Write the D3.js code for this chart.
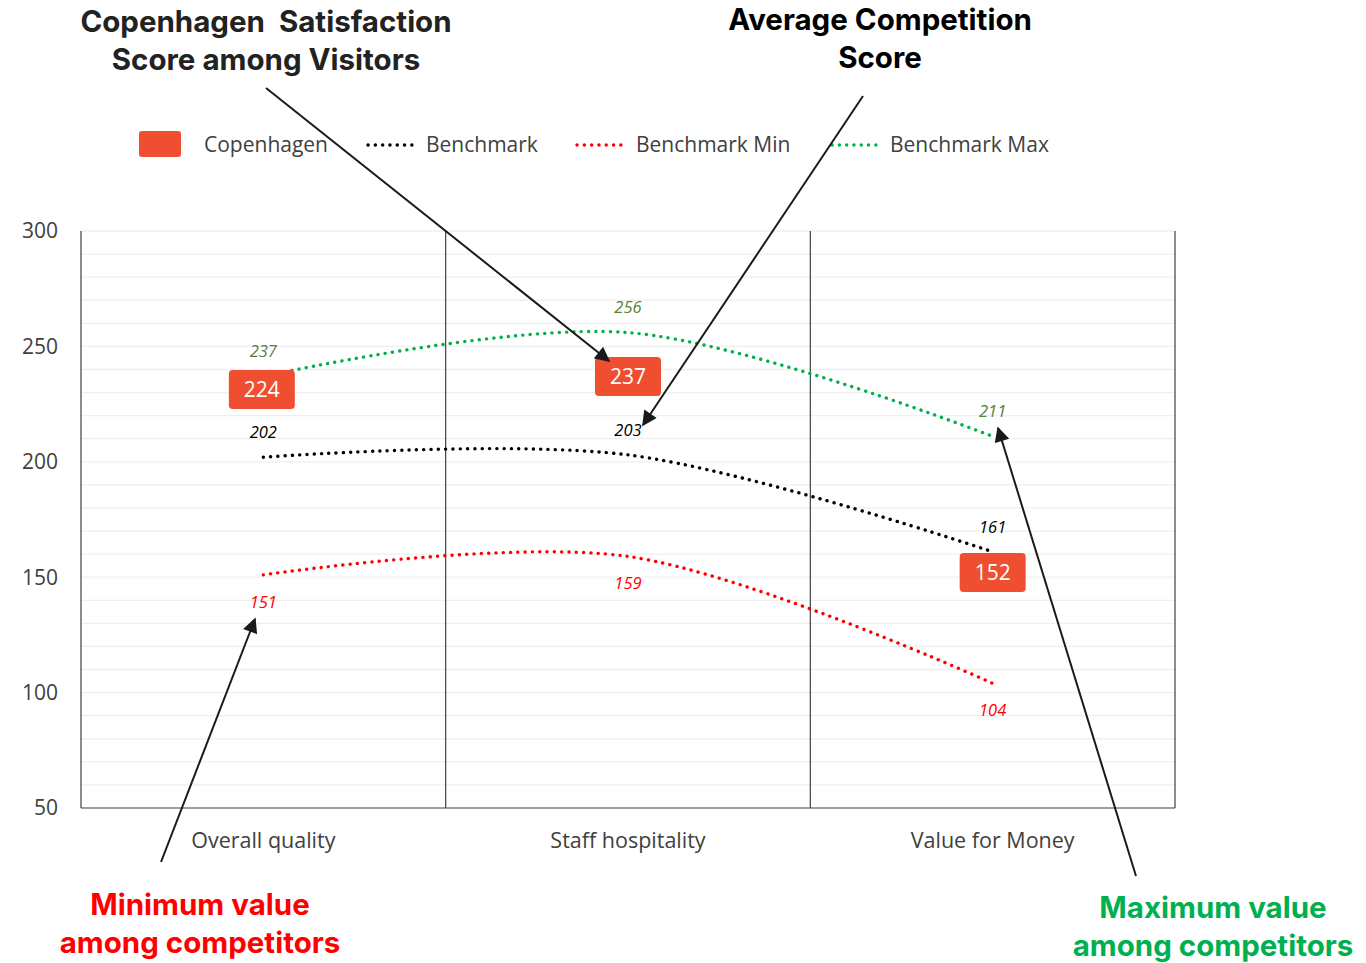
<!DOCTYPE html>
<html>
<head>
<meta charset="utf-8">
<script src="https://cdn.jsdelivr.net/npm/d3@7"></script>
<style>
  body { margin: 0; background: #fff; }
  text { font-family: "Open Sans", "Noto Sans", sans-serif; white-space: pre; }
</style>
</head>
<body>
<div id="chart"></div>
<script>
// data
const categories = ["Overall quality", "Staff hospitality", "Value for Money"];
const copenhagen = [224, 237, 152];
const benchmark = [202, 203, 161];
const benchmarkMin = [151, 159, 104];
const benchmarkMax = [237, 256, 211];
const yTicks = [50, 100, 150, 200, 250, 300];

const W = 1366, H = 963;
const plotL = 81, plotR = 1175, plotT = 231, plotB = 808;

const svg = d3.select("#chart").append("svg")
  .attr("width", W).attr("height", H);

const x = d3.scaleBand().domain(categories).range([plotL, plotR]).padding(0);
const y = d3.scaleLinear().domain([50, 300]).range([plotB, plotT]);
const cx = d => x(d) + x.bandwidth() / 2;

// minor gridlines every 10
const grid = svg.append("g");
grid.selectAll("line").data(d3.range(60, 301, 10)).enter().append("line")
  .attr("x1", plotL).attr("x2", plotR)
  .attr("y1", d => y(d)).attr("y2", d => y(d))
  .attr("stroke", "#efefef").attr("stroke-width", 1.3);

// category separators + frame
const frame = svg.append("g").attr("stroke", "#404040").attr("stroke-width", 1.2);
frame.selectAll("line.sep").data(categories).enter().append("line")
  .attr("class", "sep")
  .attr("x1", d => x(d)).attr("x2", d => x(d))
  .attr("y1", plotT).attr("y2", plotB);
frame.append("line").attr("x1", plotR).attr("x2", plotR).attr("y1", plotT).attr("y2", plotB);
frame.append("line").attr("x1", plotL).attr("x2", plotR).attr("y1", plotB).attr("y2", plotB);

// y axis labels
svg.append("g").selectAll("text").data(yTicks).enter().append("text")
  .attr("x", 58).attr("y", d => y(d)).attr("dy", "0.35em")
  .attr("text-anchor", "end").attr("font-size", 21).attr("fill", "#404040")
  .text(d => d);

// x axis labels
svg.append("g").selectAll("text").data(categories).enter().append("text")
  .attr("x", d => cx(d)).attr("y", 840).attr("dy", "0.35em")
  .attr("text-anchor", "middle").attr("font-size", 21.5).attr("fill", "#404040")
  .text(d => d);

// smoothed dotted series
const series = [
  { name: "Benchmark Max", values: benchmarkMax, color: "#00b050", label: "#548235", above: true },
  { name: "Benchmark", values: benchmark, color: "#000000", label: "#000000", above: true },
  { name: "Benchmark Min", values: benchmarkMin, color: "#ff0000", label: "#ff0000", above: false }
];

const line = d3.line()
  .x((d, i) => cx(categories[i]))
  .y(d => y(d))
  .curve(d3.curveCatmullRom.alpha(0.5));

series.forEach(s => {
  svg.append("path")
    .attr("d", line(s.values))
    .attr("fill", "none")
    .attr("stroke", s.color)
    .attr("stroke-width", 3.4)
    .attr("stroke-linecap", "round")
    .attr("stroke-dasharray", "0.1 7.2");
  svg.append("g").selectAll("text").data(s.values).enter().append("text")
    .attr("x", (d, i) => cx(categories[i]))
    .attr("y", d => y(d) + (s.above ? -25 : 27))
    .attr("dy", "0.35em")
    .attr("text-anchor", "middle")
    .attr("font-size", 16.5).attr("font-style", "italic")
    .attr("fill", s.label)
    .text(d => d);
});

// Copenhagen labels as red boxes (first one sits a bit higher in the original)
const boxNudge = [[-1.5, -17], [0, 0], [0, 0]];
const boxes = svg.append("g").selectAll("g").data(copenhagen).enter().append("g")
  .attr("transform", (d, i) => `translate(${cx(categories[i]) + boxNudge[i][0]},${y(d) + boxNudge[i][1]})`);
boxes.append("rect")
  .attr("x", -33).attr("y", -19.5).attr("width", 66).attr("height", 39)
  .attr("rx", 4).attr("fill", "#f04e30");
boxes.append("text")
  .attr("text-anchor", "middle").attr("dy", "0.36em")
  .attr("font-size", 21).attr("fill", "#fff")
  .text(d => d);

// legend
const legend = svg.append("g");
legend.append("rect").attr("x", 139).attr("y", 131).attr("width", 42).attr("height", 26)
  .attr("rx", 3).attr("fill", "#f04e30");
legend.append("text").attr("x", 204).attr("y", 145).attr("dy", "0.35em")
  .attr("font-size", 21).attr("fill", "#404040").text("Copenhagen");
const legendLines = [
  { s: series[1], x1: 368, x2: 416, tx: 426 },
  { s: series[2], x1: 577, x2: 627, tx: 636 },
  { s: series[0], x1: 832, x2: 882, tx: 890 }
];
legendLines.forEach(l => {
  legend.append("line").attr("x1", l.x1).attr("x2", l.x2).attr("y1", 145).attr("y2", 145)
    .attr("stroke", l.s.color).attr("stroke-width", 3.4)
    .attr("stroke-linecap", "round").attr("stroke-dasharray", "0.1 7.2");
  legend.append("text").attr("x", l.tx).attr("y", 145).attr("dy", "0.35em")
    .attr("font-size", 21).attr("fill", "#404040").text(l.s.name);
});

// annotations
const defs = svg.append("defs");
defs.append("marker").attr("id", "arrow")
  .attr("viewBox", "0 0 10 10").attr("refX", 9).attr("refY", 5)
  .attr("markerWidth", 8).attr("markerHeight", 7.5).attr("orient", "auto")
  .attr("markerUnits", "strokeWidth")
  .append("path").attr("d", "M0,0 L10,5 L0,10 z").attr("fill", "#1a1a1a");

const arrows = [
  [266, 88, 609, 361],
  [863, 96, 643, 425],
  [161, 862, 255, 619],
  [1136, 876, 998, 428]
];
svg.append("g").selectAll("line").data(arrows).enter().append("line")
  .attr("x1", d => d[0]).attr("y1", d => d[1]).attr("x2", d => d[2]).attr("y2", d => d[3])
  .attr("stroke", "#1a1a1a").attr("stroke-width", 2)
  .attr("marker-end", "url(#arrow)");

const notes = [
  { lines: ["Copenhagen  Satisfaction", "Score among Visitors"], x: 266, y: 22, color: "#222" },
  { lines: ["Average Competition", "Score"], x: 880, y: 20, color: "#000" },
  { lines: ["Minimum value", "among competitors"], x: 200, y: 905, color: "#ff0000" },
  { lines: ["Maximum value", "among competitors"], x: 1213, y: 908, color: "#00b050" }
];
notes.forEach(n => {
  n.lines.forEach((t, i) => {
    svg.append("text").attr("x", n.x).attr("y", n.y + i * 37.5).attr("dy", "0.35em")
      .attr("text-anchor", "middle").attr("font-size", 29.5).attr("font-weight", 700)
      .style("font-family", "Inter, 'Open Sans', sans-serif")
      .attr("fill", n.color).text(t);
  });
});
</script>
</body>
</html>
